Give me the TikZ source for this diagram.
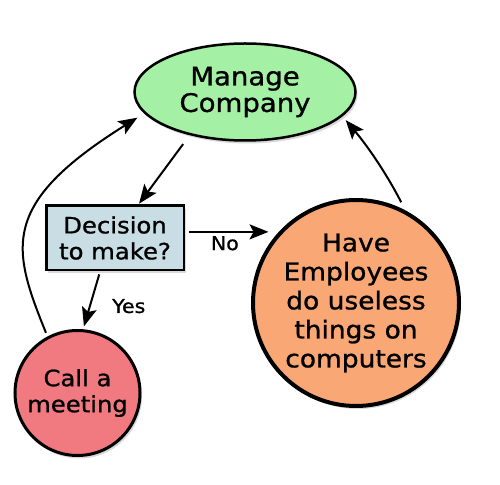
\documentclass[tikz,border=0pt]{standalone}
\usepackage{fontspec}
\setmainfont{DejaVu Sans}[FakeStretch=1.08,FakeBold=1]
\usetikzlibrary{arrows.meta,shapes.geometric,shadows}

\definecolor{managegreen}{RGB}{164,240,164}
\definecolor{decisionblue}{RGB}{200,222,228}
\definecolor{uselessorange}{RGB}{249,168,117}
\definecolor{meetingred}{RGB}{240,122,127}

\begin{document}
\begin{tikzpicture}[x=1pt,y=1pt,>={Stealth[length=19pt,width=15pt,inset=4pt]},line width=2pt,
    shade/.style={drop shadow={opacity=0.3,shadow xshift=2pt,shadow yshift=-3pt}}]
    \useasboundingbox (0,0) rectangle (500,484);

    % nodes
    \draw (245,392) node[ellipse, draw, line width=2.5pt, fill=managegreen, shade, inner sep=0pt, minimum width=221pt, minimum height=97pt, align=center, font=\fontsize{25.5}{26.5}\selectfont] (M) {Manage\\Company};
    \draw (115,246) node[rectangle, draw, line width=2.5pt, fill=decisionblue, shade, inner sep=0pt, minimum width=137.5pt, minimum height=64.5pt, align=center, font=\fontsize{22.5}{26}\selectfont] (D) {Decision\\to make?};
    \draw (356,181) node[circle, draw, line width=4pt, fill=uselessorange, shade, inner sep=0pt, minimum size=206pt, align=center, font=\fontsize{24.5}{29}\selectfont] (H) {Have\\Employees\\do useless\\things on\\computers};
    \draw (77.5,91) node[circle, draw, line width=3pt, fill=meetingred, shade, inner sep=0pt, minimum size=125pt, align=center, font=\fontsize{22.5}{26}\selectfont] (C) {Call a\\meeting};

    % lines
    \draw[->, shorten <=11pt, shorten >=1pt] (M.218) -- (D.55);
    \draw[->, shorten <=4pt, shorten >=7pt] (D.5) -- (D.5 -| H.140) node[below, pos=0.44, font=\fontsize{19}{22}\selectfont] {No};
    \draw[->, shorten <=3pt, shorten >=3pt] (D.246) -- (C.85) node[pos=0.6, right=18pt, font=\fontsize{19}{22}\selectfont] {Yes};
    \draw[->, shorten <=4pt, shorten >=8pt] (C.118) to[out=112, in=212, out looseness=1, in looseness=1.8] (M.192);
    \draw[->, shorten <=9pt, shorten >=5pt] (H.62) to[out=117, in=310, out looseness=0.8, in looseness=1] (M.346);

\end{tikzpicture}
\end{document}
